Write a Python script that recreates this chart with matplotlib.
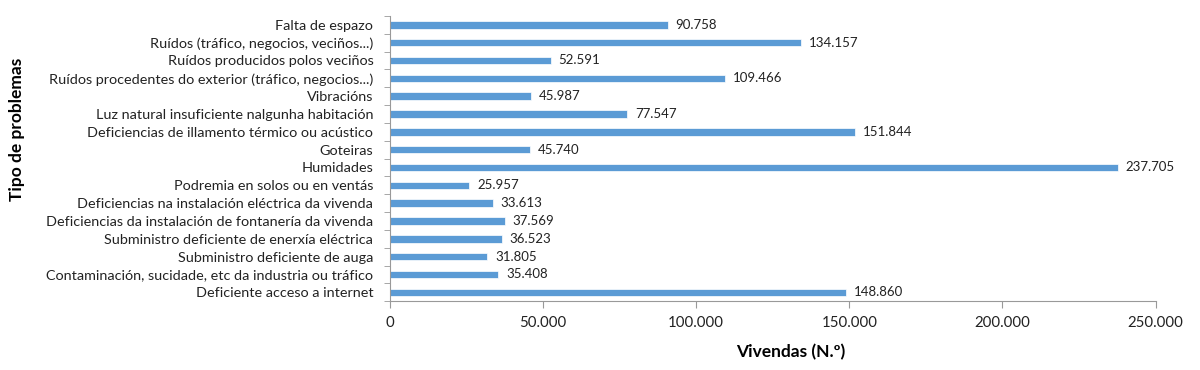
import matplotlib
matplotlib.use("Agg")
import matplotlib.pyplot as plt
import numpy as np

categories = [
    "Falta de espazo",
    "Ruídos (tráfico, negocios, veciños...)",
    "Ruídos producidos polos veciños",
    "Ruídos procedentes do exterior (tráfico, negocios...)",
    "Vibracións",
    "Luz natural insuficiente nalgunha habitación",
    "Deficiencias de illamento térmico ou acústico",
    "Goteiras",
    "Humidades",
    "Podremia en solos ou en ventás",
    "Deficiencias na instalación eléctrica da vivenda",
    "Deficiencias da instalación de fontanería da vivenda",
    "Subministro deficiente de enerxía eléctrica",
    "Subministro deficiente de auga",
    "Contaminación, sucidade, etc da industria ou tráfico",
    "Deficiente acceso a internet",
]
values = [90758, 134157, 52591, 109466, 45987, 77547, 151844, 45740,
          237705, 25957, 33613, 37569, 36523, 31805, 35408, 148860]
xticks = [0, 50000, 100000, 150000, 200000, 250000]

plt.rcParams['font.family'] = ['Lato', 'DejaVu Sans']

def fmt(v):
    return f"{v:,}".replace(",", ".")

fig = plt.figure(figsize=(12, 3.7), dpi=100)
ax = fig.add_axes([0.325, 0.186, 0.638, 0.771])
n = len(categories)
y = np.arange(n)
ax.barh(y, values, height=0.42, color="#5B9BD5", edgecolor="white", linewidth=0.5)
for yi, v in zip(y, values):
    ax.text(v + 2500, yi, fmt(v), va="center", ha="left", fontsize=9.5, color="#222222")

ax.set_ylim(n - 0.5, -0.5)
ax.set_xlim(0, 250000)
ax.set_yticks(y)
ax.set_yticklabels(categories, fontsize=10.4, color="#222222")
ax.set_yticks(np.arange(-0.5, n, 1), minor=True)
ax.tick_params(axis="y", which="major", length=0, pad=12)
ax.tick_params(axis="y", which="minor", length=4, color="#999999", direction="out")
ax.set_xticks(xticks)
ax.set_xticklabels([fmt(t) for t in xticks], fontsize=10.8, color="#222222")
ax.tick_params(axis="x", length=5, color="#999999", pad=6)

for s in ["top", "right"]:
    ax.spines[s].set_visible(False)
for s in ["left", "bottom"]:
    ax.spines[s].set_color("#999999")
    ax.spines[s].set_linewidth(0.8)

ax.set_xlabel("Vivendas (N.º)", fontsize=12.5, fontweight="bold", labelpad=10)
ax.xaxis.label.set_x(0.524)
fig.text(0.014, 0.649, "Tipo de problemas", rotation=90, va="center", ha="center",
         fontsize=12.5, fontweight="bold")

fig.savefig("out.png", dpi=100)
